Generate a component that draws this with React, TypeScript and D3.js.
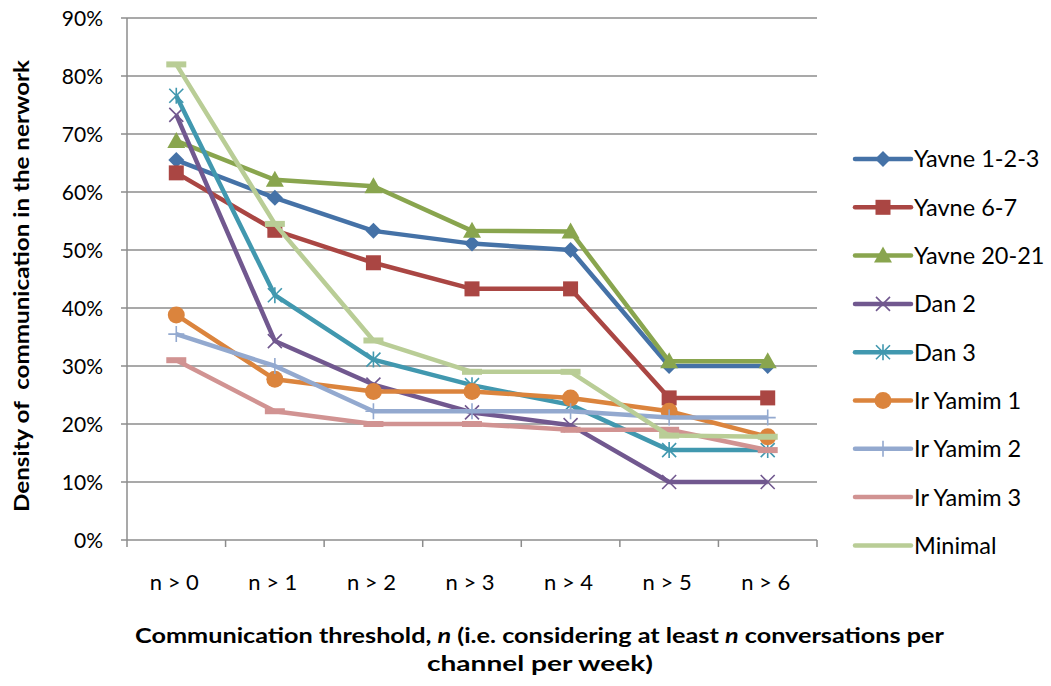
import React from "react";
import * as d3 from "d3";

const categories = ["n > 0", "n > 1", "n > 2", "n > 3", "n > 4", "n > 5", "n > 6"];
const yTicks = [0, 0.1, 0.2, 0.3, 0.4, 0.5, 0.6, 0.7, 0.8, 0.9];

const seriesNames = ["Yavne 1-2-3", "Yavne 6-7", "Yavne 20-21", "Dan 2", "Dan 3", "Ir Yamim 1", "Ir Yamim 2", "Ir Yamim 3", "Minimal"];
const yavne123 = [0.655, 0.59, 0.533, 0.511, 0.5, 0.30, 0.30];
const yavne67 = [0.633, 0.534, 0.478, 0.433, 0.433, 0.245, 0.245];
const yavne2021 = [0.688, 0.621, 0.61, 0.533, 0.532, 0.308, 0.308];
const dan2 = [0.733, 0.343, 0.268, 0.22, 0.198, 0.10, 0.10];
const dan3 = [0.766, 0.422, 0.311, 0.267, 0.233, 0.155, 0.155];
const irYamim1 = [0.388, 0.277, 0.256, 0.256, 0.245, 0.222, 0.178];
const irYamim2 = [0.355, 0.30, 0.222, 0.222, 0.222, 0.211, 0.211];
const irYamim3 = [0.31, 0.222, 0.20, 0.20, 0.19, 0.19, 0.155];
const minimal = [0.82, 0.545, 0.344, 0.29, 0.29, 0.18, 0.178];

const seriesValues = [yavne123, yavne67, yavne2021, dan2, dan3, irYamim1, irYamim2, irYamim3, minimal];
const colors = ["#4572A7", "#AA4643", "#89A54E", "#71588F", "#4198AF", "#DB843D", "#93A9CF", "#D19392", "#B9CD96"];
const markers = ["diamond", "square", "triangle", "x", "star", "circle", "plus", "dash", "dash"];

const W = 1051, H = 686;
const left = 127, right = 817, top = 18, bottom = 540;
const FONT = "Lato, 'Open Sans', sans-serif";

function Marker({ type, x, y, color }: { type: string; x: number; y: number; color: string }) {
  switch (type) {
    case "diamond":
      return <path d={`M${x},${y - 8}L${x + 8},${y}L${x},${y + 8}L${x - 8},${y}Z`} fill={color} />;
    case "square":
      return <rect x={x - 7.5} y={y - 7.5} width={15} height={15} fill={color} />;
    case "triangle":
      return <path d={`M${x},${y - 9}L${x + 9},${y + 7}L${x - 9},${y + 7}Z`} fill={color} />;
    case "x":
      return <path d={`M${x - 7},${y - 7}L${x + 7},${y + 7}M${x - 7},${y + 7}L${x + 7},${y - 7}`} stroke={color} strokeWidth={1.6} fill="none" />;
    case "star":
      return <path d={`M${x - 7},${y - 7}L${x + 7},${y + 7}M${x - 7},${y + 7}L${x + 7},${y - 7}M${x},${y - 8}L${x},${y + 8}`} stroke={color} strokeWidth={1.6} fill="none" />;
    case "circle":
      return <circle cx={x} cy={y} r={8.5} fill={color} />;
    case "plus":
      return <path d={`M${x - 8},${y}L${x + 8},${y}M${x},${y - 8}L${x},${y + 8}`} stroke={color} strokeWidth={1.6} fill="none" />;
    case "dash":
      return <rect x={x - 10} y={y - 3} width={20} height={6} fill={color} />;
    default:
      return null;
  }
}

export default function App() {
  const x = d3.scaleBand<string>().domain(categories).range([left, right]);
  const y = d3.scaleLinear().domain([0, 0.9]).range([bottom, top]);
  const cx = (c: string) => (x(c) as number) + x.bandwidth() / 2;
  const line = d3.line<number>().x((_, i) => cx(categories[i])).y((v) => y(v));
  const legendX = 855, legendY0 = 159, legendStep = 48.3;
  const fmt = d3.format(".0%");

  return (
    <svg width={W} height={H} style={{ position: "absolute", left: 0, top: 0, background: "#fff" }} fontFamily={FONT}>
      {yTicks.map((t) => (
        <g key={t}>
          {t > 0 && <line x1={left} x2={right} y1={y(t)} y2={y(t)} stroke="#8c8c8c" strokeWidth={1.5} />}
          <line x1={left - 6} x2={left} y1={y(t)} y2={y(t)} stroke="#8c8c8c" strokeWidth={1.5} />
          <text x={103} y={y(t)} dy="0.36em" textAnchor="end" fontSize={21} fill="#000">{fmt(t)}</text>
        </g>
      ))}
      <line x1={left} x2={left} y1={top} y2={bottom} stroke="#8c8c8c" strokeWidth={1.5} />
      <line x1={left} x2={right} y1={bottom} y2={bottom} stroke="#8c8c8c" strokeWidth={1.5} />
      {categories.map((c, i) => (
        <g key={c}>
          <line x1={(x(c) as number) + x.bandwidth()} x2={(x(c) as number) + x.bandwidth()} y1={bottom} y2={bottom + 7} stroke="#8c8c8c" strokeWidth={1.5} />
          {i === 0 && <line x1={left} x2={left} y1={bottom} y2={bottom + 7} stroke="#8c8c8c" strokeWidth={1.5} />}
          <text x={cx(c) - 2} y={590} textAnchor="middle" fontSize={22} fill="#000">{c}</text>
        </g>
      ))}
      {seriesValues.map((vals, si) => (
        <g key={seriesNames[si]}>
          <path d={line(vals) || ""} fill="none" stroke={colors[si]} strokeWidth={4.5} strokeLinejoin="round" />
          {vals.map((v, i) => (
            <Marker key={i} type={markers[si]} x={cx(categories[i])} y={y(v)} color={colors[si]} />
          ))}
        </g>
      ))}
      {seriesNames.map((n, si) => {
        const ly = legendY0 + si * legendStep;
        return (
          <g key={n}>
            <line x1={legendX} x2={legendX + 56} y1={ly} y2={ly} stroke={colors[si]} strokeWidth={4.5} strokeLinecap="round" />
            {markers[si] !== "dash" && <Marker type={markers[si]} x={legendX + 28} y={ly} color={colors[si]} />}
            <text x={legendX + 59} y={ly} dy="0.36em" fontSize={23.5} fill="#000">{n}</text>
          </g>
        );
      })}
      <text transform={`translate(29,${286}) rotate(-90)`} textAnchor="middle" fontSize={21} fontWeight="bold" fill="#000" textLength={452} lengthAdjust="spacingAndGlyphs" style={{ whiteSpace: "pre" }}>
        {"Density of  communication in the nerwork"}
      </text>
      <text x={539.5} y={643} textAnchor="middle" fontSize={21} fontWeight="bold" fill="#000" textLength={809} lengthAdjust="spacingAndGlyphs">
        Communication threshold, <tspan fontStyle="italic">n</tspan> (i.e. considering at least <tspan fontStyle="italic">n</tspan> conversations per
      </text>
      <text x={540} y={671} textAnchor="middle" fontSize={21} fontWeight="bold" fill="#000" textLength={226} lengthAdjust="spacingAndGlyphs">channel per week)</text>
    </svg>
  );
}
